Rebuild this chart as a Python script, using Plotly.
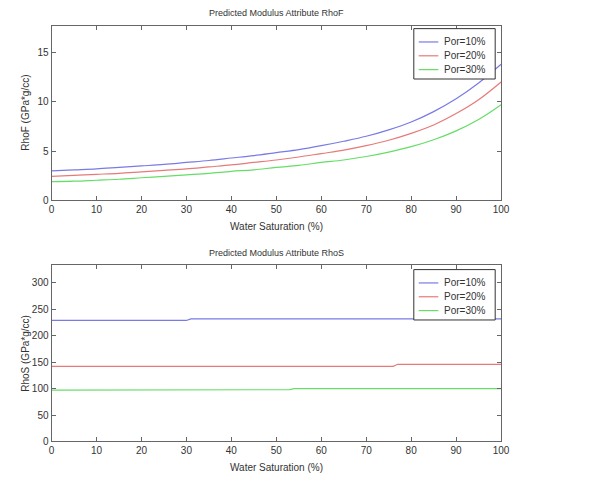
import plotly.graph_objects as go

W, H = 614, 483

sw = [0, 5, 10, 15, 20, 25, 30, 35, 40, 45, 50, 55, 60, 65, 70, 75, 80, 85, 90, 95, 100]
rhof_por10 = [3.0, 3.1, 3.2, 3.35, 3.5, 3.65, 3.85, 4.05, 4.3, 4.55, 4.85, 5.15, 5.55, 6.0, 6.5, 7.15, 7.95, 9.0, 10.3, 11.9, 13.8]
rhof_por20 = [2.45, 2.55, 2.65, 2.75, 2.9, 3.05, 3.2, 3.4, 3.6, 3.85, 4.1, 4.4, 4.75, 5.1, 5.55, 6.1, 6.8, 7.65, 8.8, 10.2, 12.0]
rhof_por30 = [1.9, 1.95, 2.05, 2.15, 2.3, 2.45, 2.6, 2.75, 2.95, 3.1, 3.35, 3.55, 3.85, 4.1, 4.45, 4.9, 5.45, 6.15, 7.05, 8.2, 9.7]

sw_s = [0, 30, 31, 53, 54, 76, 77, 100]
rhos_por10 = [229, 229, 232, 232, 232, 232, 232, 232]
rhos_por20 = [142, 142, 142, 142, 142, 142, 146, 146]
rhos_por30 = [97, 97, 98, 98, 100, 100, 100, 100]

names = ["Por=10%", "Por=20%", "Por=30%"]
colors = ["#7a7ae6", "#e67a7a", "#66dd66"]

x_ticks = [0, 10, 20, 30, 40, 50, 60, 70, 80, 90, 100]
yf_ticks = [0, 5, 10, 15]
ys_ticks = [0, 50, 100, 150, 200, 250, 300]

FONT = "Liberation Sans, Arial, sans-serif"
TXT = "#333333"

fig = go.Figure()
for ys, n, c in zip([rhof_por10, rhof_por20, rhof_por30], names, colors):
    fig.add_trace(go.Scatter(x=sw, y=ys, mode="lines", name=n, line=dict(color=c, width=1.2, shape="spline"),
                             xaxis="x", yaxis="y", showlegend=False))
for ys, n, c in zip([rhos_por10, rhos_por20, rhos_por30], names, colors):
    fig.add_trace(go.Scatter(x=sw_s, y=ys, mode="lines", name=n, line=dict(color=c, width=1.2),
                             xaxis="x2", yaxis="y2", showlegend=False))

xd = [49.5 / W, 508 / W]
axis_common = dict(showline=True, linecolor="#666666", linewidth=1, mirror="allticks",
                   ticks="inside", ticklen=4, tickcolor="#666666", showgrid=False, zeroline=False,
                   tickfont=dict(family=FONT, size=10, color=TXT))

fig.update_layout(
    width=W, height=H, margin=dict(l=0, r=0, t=0, b=0),
    paper_bgcolor="white", plot_bgcolor="white",
    font=dict(family=FONT, size=10, color=TXT),
    xaxis=dict(domain=xd, range=[0, 100], tickvals=x_ticks, anchor="y", **axis_common),
    yaxis=dict(domain=[1 - 203 / H, 1 - 26 / H], range=[0, 17.7], tickvals=yf_ticks, anchor="x", **axis_common),
    xaxis2=dict(domain=xd, range=[0, 100], tickvals=x_ticks, anchor="y2", **axis_common),
    yaxis2=dict(domain=[1 - 447 / H, 1 - 268.3 / H], range=[0, 334], tickvals=ys_ticks, anchor="x2", **axis_common),
    showlegend=False,
)

ann = [
    dict(text="Predicted Modulus Attribute RhoF", x=(xd[0] + xd[1]) / 2, y=1 - 12.7 / H, size=9),
    dict(text="Water Saturation (%)", x=(xd[0] + xd[1]) / 2, y=1 - 229 / H, size=10),
    dict(text="Predicted Modulus Attribute RhoS", x=(xd[0] + xd[1]) / 2, y=1 - 255.7 / H, size=9),
    dict(text="Water Saturation (%)", x=(xd[0] + xd[1]) / 2, y=1 - 473 / H, size=10),
]
for a in ann:
    fig.add_annotation(text=a["text"], x=a["x"], y=a["y"], xref="paper", yref="paper",
                       showarrow=False, xanchor="center", yanchor="middle",
                       font=dict(family=FONT, size=a["size"], color=TXT))
for t, yc in [("RhoF (GPa*g/cc)", (203 + 26) / 2), ("RhoS (GPa*g/cc)", (447 + 268.3) / 2)]:
    fig.add_annotation(text=t, x=23 / W, y=1 - yc / H, xref="paper", yref="paper", showarrow=False,
                       textangle=-90, xanchor="center", yanchor="middle",
                       font=dict(family=FONT, size=10, color=TXT))

# custom legend boxes (pixel layout -> paper coords)
def px_x(v):
    return v / W

def px_y(v):
    return 1 - v / H

for top in [29, 273]:
    bottom = top + 51
    fig.add_shape(type="rect", xref="paper", yref="paper",
                  x0=px_x(419), x1=px_x(502), y0=px_y(bottom), y1=px_y(top),
                  line=dict(color="#333333", width=1), fillcolor="white", layer="above")
    for i, (n, c) in enumerate(zip(names, colors)):
        ry = top + 13.5 + i * 14
        fig.add_shape(type="line", xref="paper", yref="paper",
                      x0=px_x(424), x1=px_x(444), y0=px_y(ry), y1=px_y(ry),
                      line=dict(color=c, width=1.2), layer="above")
        fig.add_annotation(text=n, x=px_x(448), y=px_y(ry), xref="paper", yref="paper",
                           showarrow=False, xanchor="left", yanchor="middle",
                           font=dict(family=FONT, size=10, color=TXT))

fig.write_html("out.html")
